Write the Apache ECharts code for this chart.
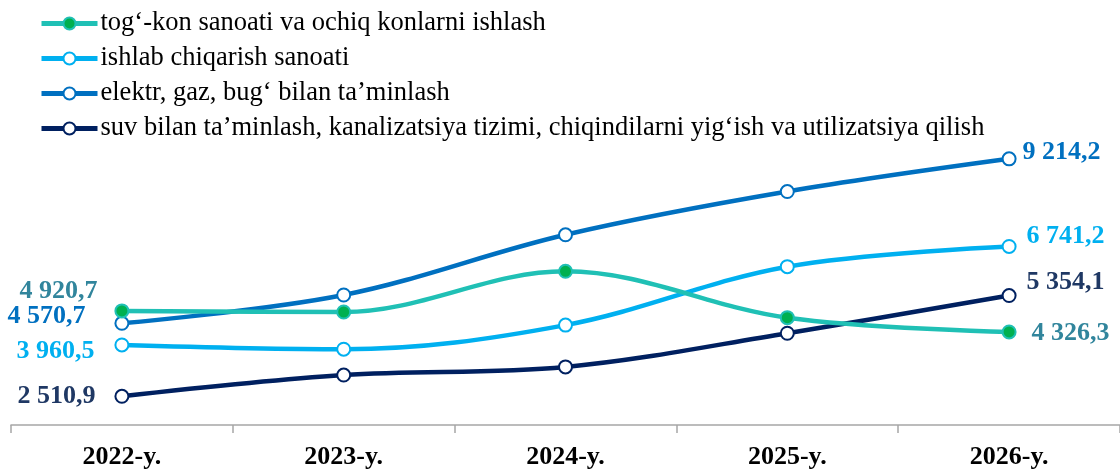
<!doctype html>
<html>

<head>
    <meta charset="utf-8">
    <title>Sanoat tarmoqlari</title>
    <script src="https://cdn.jsdelivr.net/npm/echarts@6/dist/echarts.min.js"></script>
    <style>
        body { margin: 0; background: #fff; }
    </style>
</head>

<body>
    <div id="container" style="width:1120px;height:470px;"></div>

    <script type="text/javascript">
        // yillar
        var years = ['2022-y.', '2023-y.', '2024-y.', '2025-y.', '2026-y.'];
        // seriya nomlari
        var names = [
            'tog‘-kon sanoati va ochiq konlarni ishlash',
            'ishlab chiqarish sanoati',
            'elektr, gaz, bug‘ bilan ta’minlash',
            'suv bilan ta’minlash, kanalizatsiya tizimi, chiqindilarni yig‘ish va utilizatsiya qilish'
        ];
        // qiymatlar
        var togKon = [4920.7, 4890, 6040, 4730, 4326.3];
        var ishlab = [3960.5, 3840, 4520, 6170, 6741.2];
        var elektr = [4570.7, 5370, 7070, 8290, 9214.2];
        var suv = [2510.9, 3110, 3340, 4290, 5354.1];

        var lineColors = ['#20c0b5', '#00b0f0', '#0070c0', '#002060'];
        var labelColors = ['#31859c', '#00b0f0', '#0070c0', '#1f3864'];
        var markerFill = ['#00b050', '#fff', '#fff', '#fff'];
        // chap va o'ng yorliqlar siljishi [dx, dy]
        var leftShift = [[2, -20], [-1, 6], [-10, -7], [0, 0]];
        var rightShift = [[-4, 1], [-9, -10], [-13, -7], [-9, -13]];

        function fmt(v) {
            var s = v.toFixed(1).replace('.', ',');
            return s.replace(/^(\d)(\d{3})/, '$1 $2');
        }

        function makeSeries(idx, values) {
            var last = values.length - 1;
            var data = values.map(function(v, i) {
                if (i === 0 || i === last) {
                    var first = i === 0;
                    var sh = first ? leftShift[idx] : rightShift[idx];
                    return {
                        value: v,
                        label: {
                            show: true,
                            position: first ? 'left' : 'right',
                            distance: 19,
                            offset: sh,
                            formatter: fmt(v)
                        }
                    };
                }
                return v;
            });
            return {
                name: names[idx],
                type: 'line',
                smooth: 0.35,
                symbol: 'circle',
                symbolSize: 13,
                lineStyle: { width: 4.5, color: lineColors[idx] },
                itemStyle: { color: markerFill[idx], borderColor: lineColors[idx], borderWidth: 2 },
                label: {
                    color: labelColors[idx],
                    fontFamily: 'Liberation Serif',
                    fontWeight: 'bold',
                    fontSize: 26
                },
                z: 10 - idx,
                data: data
            };
        }

        var option = {
            animation: false,
            legend: {
                orient: 'vertical',
                left: 34,
                top: 5,
                itemWidth: 56,
                itemHeight: 15,
                itemGap: 8,
                lineStyle: { width: 5 },
                textStyle: { fontFamily: 'Liberation Serif', fontSize: 26.5, color: '#000', padding: [0, 0, 0, -2] },
                data: names
            },
            grid: { left: 11, width: 1117, top: 131, bottom: 44 },
            xAxis: {
                type: 'category',
                data: years,
                boundaryGap: true,
                axisLine: { lineStyle: { color: '#a6a6a6', width: 1.5 } },
                axisTick: { show: true, length: 8, lineStyle: { color: '#a6a6a6', width: 1.5 } },
                axisLabel: {
                    margin: 19,
                    color: '#000',
                    fontFamily: 'Liberation Serif',
                    fontWeight: 'bold',
                    fontSize: 26
                }
            },
            yAxis: {
                type: 'value',
                min: 1700,
                max: 10000,
                show: false
            },
            series: [
                makeSeries(0, togKon),
                makeSeries(1, ishlab),
                makeSeries(2, elektr),
                makeSeries(3, suv)
            ]
        };
        var myChart = echarts.init(document.getElementById('container'));
        myChart.setOption(option);
    </script>
</body>

</html>
